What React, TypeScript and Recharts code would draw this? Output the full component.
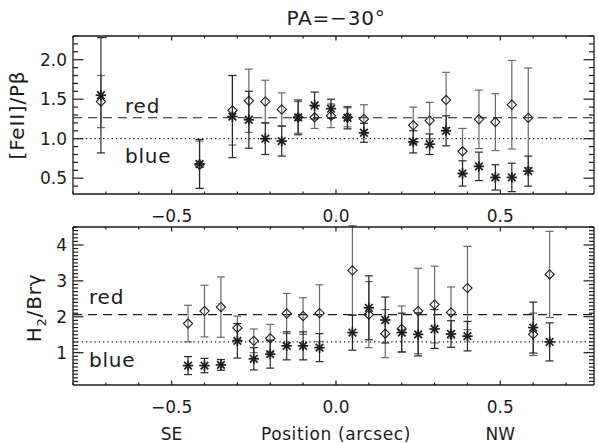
import React from "react";
import { ComposedChart, Scatter, ErrorBar, XAxis, YAxis, ReferenceLine } from "recharts";

// upper panel: [FeII]/Pbeta
const posTop = [-0.715, -0.415, -0.315, -0.265, -0.215, -0.165, -0.115, -0.065, -0.015, 0.035, 0.085, 0.235, 0.285, 0.335, 0.385, 0.435, 0.485, 0.535, 0.585];
const blueTop = [1.55, 0.68, 1.28, 1.24, 1.0, 0.97, 1.27, 1.42, 1.38, 1.265, 1.075, 0.96, 0.93, 1.1, 0.56, 0.65, 0.51, 0.51, 0.59];
const blueTopErr = [0.73, 0.31, 0.52, 0.36, 0.2, 0.19, 0.22, 0.17, 0.12, 0.14, 0.12, 0.14, 0.13, 0.19, 0.16, 0.18, 0.16, 0.18, 0.19];
const redTop = [1.47, 0.67, 1.36, 1.48, 1.47, 1.37, 1.27, 1.27, 1.29, 1.27, 1.25, 1.17, 1.23, 1.49, 0.84, 1.245, 1.21, 1.43, 1.265];
const redTopErr = [0.33, 0.3, 0.44, 0.4, 0.27, 0.21, 0.2, 0.14, 0.15, 0.12, 0.18, 0.23, 0.23, 0.35, 0.29, 0.37, 0.36, 0.56, 0.63];

// lower panel: H2/Brgamma
const posBot = [-0.45, -0.4, -0.35, -0.3, -0.25, -0.2, -0.15, -0.1, -0.05, 0.05, 0.1, 0.15, 0.2, 0.25, 0.3, 0.35, 0.4, 0.6, 0.65];
const blueBot = [0.64, 0.64, 0.66, 1.33, 0.83, 0.96, 1.19, 1.19, 1.14, 1.56, 2.25, 1.91, 1.56, 1.51, 1.66, 1.52, 1.46, 1.7, 1.3];
const blueBotErr = [0.25, 0.2, 0.15, 0.48, 0.31, 0.39, 0.39, 0.39, 0.39, 0.49, 0.89, 0.64, 0.54, 0.6, 0.54, 0.37, 0.41, 0.71, 0.53];
const redBot = [1.81, 2.16, 2.27, 1.69, 1.33, 1.4, 2.09, 2.02, 2.1, 3.29, 2.06, 1.53, 1.66, 2.16, 2.34, 2.12, 2.8, 1.51, 3.18];
const redBotErr = [0.51, 0.72, 0.84, 0.33, 0.33, 0.39, 0.56, 0.51, 0.79, 1.25, 0.92, 0.67, 0.64, 1.19, 1.07, 0.71, 1.16, 0.59, 1.2];

// mean levels
const levelsTop = { red: 1.265, blue: 1.0 };
const levelsBot = { red: 2.06, blue: 1.3 };

// axes
const xDomain: [number, number] = [-0.8, 0.785];
const xMajor = [-0.5, 0, 0.5];
const xLabels = ["\u22120.5", "0.0", "0.5"];
const xSubLabels = ["SE", "Position (arcsec)", "NW"];
const yTopDomain: [number, number] = [0.3, 2.3];
const yTopMajor = [0.5, 1.0, 1.5, 2.0];
const yTopLabels = ["0.5", "1.0", "1.5", "2.0"];
const yBotDomain: [number, number] = [0.1, 4.5];
const yBotMajor = [1, 2, 3, 4];
const yBotLabels = ["1", "2", "3", "4"];

const INK = "#1c1c1c";
const FONT = "'DejaVu Sans', sans-serif";
const CHART_W = 598;
const PLOT_LEFT = 73;
const PLOT_RIGHT_PAD = 4;

function steps(lo: number, hi: number, step: number) {
  const out: number[] = [];
  for (let i = Math.ceil(lo / step - 1e-9); i * step <= hi + 1e-9; i++) out.push(+(i * step).toFixed(4));
  return out;
}

const isMajor = (v: number, majors: number[]) => majors.some(m => Math.abs(m - v) < 1e-6);
const noLabel = () => <g />;

function xLabel(labels: string[], subs?: string[]) {
  return (p: any) => {
    const i = p.index;
    return (
      <g>
        <text x={p.x} y={p.y + 28} textAnchor="middle" fontSize={17} fontFamily={FONT} fill={INK}>{labels[i]}</text>
        {subs && (
          <text x={p.x} y={p.y + 55} textAnchor="middle" fontSize={17} fontFamily={FONT} fill={INK}
            letterSpacing={i === 1 ? 0.6 : 0}>{subs[i]}</text>
        )}
      </g>
    );
  };
}

function yLabel(labels: string[]) {
  return (p: any) => (
    <text x={p.x - 6} y={p.y} dy="0.36em" textAnchor="end" fontSize={17} fontFamily={FONT} fill={INK}>{labels[p.index]}</text>
  );
}

function Asterisk(p: any) {
  const { cx, cy } = p;
  if (cx == null || cy == null) return <g />;
  const r = 5.2, d = 3.8;
  return (
    <g stroke={INK} strokeWidth={1.7}>
      <line x1={cx} y1={cy - r} x2={cx} y2={cy + r} />
      <line x1={cx - r} y1={cy} x2={cx + r} y2={cy} />
      <line x1={cx - d} y1={cy - d} x2={cx + d} y2={cy + d} />
      <line x1={cx - d} y1={cy + d} x2={cx + d} y2={cy - d} />
    </g>
  );
}

function Diamond(p: any) {
  const { cx, cy } = p;
  if (cx == null || cy == null) return <g />;
  const r = 4.6;
  return (
    <polygon points={`${cx},${cy - r} ${cx + r},${cy} ${cx},${cy + r} ${cx - r},${cy}`}
      fill="none" stroke={INK} strokeWidth={1.1} />
  );
}

function levelLabel(text: string, dx: number, dy: number) {
  return (props: any) => {
    const vb = props.viewBox ?? { x: 0, y: 0 };
    return (
      <text x={vb.x + dx} y={vb.y + dy} fontSize={20} fontFamily={FONT} fill={INK} letterSpacing={0.8}>{text}</text>
    );
  };
}

const rows = (xs: number[], ys: number[], es: number[]) => xs.map((x, i) => ({ x, y: ys[i], err: es[i] }));

interface PanelProps {
  height: number;
  top: number;
  marginTop: number;
  bottomAxisH: number;
  yDomain: [number, number];
  yMajor: number[];
  yLabels: string[];
  blue: { x: number; y: number; err: number }[];
  red: { x: number; y: number; err: number }[];
  levels: { red: number; blue: number };
  redLabel: [number, number];
  blueLabel: [number, number];
  subs?: string[];
}

function Panel(pp: PanelProps) {
  const xMinor = steps(xDomain[0], xDomain[1], 0.1);
  const yMinor = steps(pp.yDomain[0] + 0.05, pp.yDomain[1], 0.1);
  const frame = { stroke: INK, strokeWidth: 1.3 };
  // IDL-style inward ticks on all four sides, lengths in pixels converted to data units
  const plotW = CHART_W - PLOT_LEFT - PLOT_RIGHT_PAD;
  const plotH = pp.height - pp.marginTop - pp.bottomAxisH;
  const perX = (xDomain[1] - xDomain[0]) / plotW;
  const perY = (pp.yDomain[1] - pp.yDomain[0]) / plotH;
  const [x0, x1] = xDomain;
  const [y0, y1] = pp.yDomain;
  const tickProps = { xAxisId: "b", yAxisId: "l", stroke: INK, strokeWidth: 1.2, ifOverflow: "visible" as const };
  const xTickLines = xMinor.flatMap(v => {
    const len = (isMajor(v, xMajor) ? 4.5 : 2.5) * perY;
    return [
      <ReferenceLine key={`xb${v}`} {...tickProps} segment={[{ x: v, y: y0 }, { x: v, y: y0 + len }]} />,
      <ReferenceLine key={`xt${v}`} {...tickProps} segment={[{ x: v, y: y1 }, { x: v, y: y1 - len }]} />,
    ];
  });
  const yTickLines = yMinor.flatMap(v => {
    const len = (isMajor(v, pp.yMajor) ? 10.5 : 5) * perX;
    return [
      <ReferenceLine key={`yl${v}`} {...tickProps} segment={[{ x: x0, y: v }, { x: x0 + len, y: v }]} />,
      <ReferenceLine key={`yr${v}`} {...tickProps} segment={[{ x: x1, y: v }, { x: x1 - len, y: v }]} />,
    ];
  });
  return (
    <div style={{ position: "absolute", left: 0, top: pp.top }}>
      <ComposedChart width={CHART_W} height={pp.height}
        margin={{ top: pp.marginTop, right: PLOT_RIGHT_PAD, bottom: 0, left: 0 }}>
        <XAxis xAxisId="t" orientation="top" mirror type="number" domain={xDomain} allowDataOverflow
          ticks={xMajor} tickLine={false} tick={noLabel} height={1} axisLine={frame} />
        <XAxis xAxisId="b" type="number" dataKey="x" domain={xDomain} allowDataOverflow
          ticks={xMajor} interval={0} tickSize={0} tickMargin={0} tickLine={false}
          height={pp.bottomAxisH} axisLine={frame} tick={xLabel(xLabels, pp.subs)} />
        <YAxis yAxisId="r" orientation="right" mirror type="number" domain={pp.yDomain} allowDataOverflow
          ticks={pp.yMajor} tickLine={false} tick={noLabel} width={1} axisLine={frame} />
        <YAxis yAxisId="l" type="number" dataKey="y" domain={pp.yDomain} allowDataOverflow
          ticks={pp.yMajor} interval={0} tickSize={0} tickMargin={0} tickLine={false}
          width={PLOT_LEFT} axisLine={frame} tick={yLabel(pp.yLabels)} />
        {xTickLines}
        {yTickLines}
        <ReferenceLine xAxisId="b" yAxisId="l" y={pp.levels.red} stroke={INK} strokeWidth={1.2}
          strokeDasharray="9 6" label={levelLabel("red", pp.redLabel[0], pp.redLabel[1])} />
        <ReferenceLine xAxisId="b" yAxisId="l" y={pp.levels.blue} stroke={INK} strokeWidth={1.2}
          strokeDasharray="1.3 3" label={levelLabel("blue", pp.blueLabel[0], pp.blueLabel[1])} />
        <Scatter xAxisId="b" yAxisId="l" data={pp.red} shape={Diamond} isAnimationActive={false}>
          <ErrorBar dataKey="err" direction="y" width={4} stroke="#6a6a6a" strokeWidth={1.2} />
        </Scatter>
        <Scatter xAxisId="b" yAxisId="l" data={pp.blue} shape={Asterisk} isAnimationActive={false}>
          <ErrorBar dataKey="err" direction="y" width={4} stroke="#262626" strokeWidth={1.2} />
        </Scatter>
      </ComposedChart>
    </div>
  );
}

export default function App() {
  const rot: React.CSSProperties = {
    position: "absolute", transform: "translate(-50%, -50%) rotate(-90deg)", whiteSpace: "nowrap",
    fontFamily: FONT, fontSize: 20, color: INK, letterSpacing: 0.8,
  };
  return (
    <div style={{ position: "absolute", left: 0, top: 0, width: 598, height: 443, background: "#fff", overflow: "hidden" }}>
      <div style={{ position: "absolute", left: 336, top: 18, transform: "translate(-50%, -50%)", fontFamily: FONT,
        fontSize: 20, color: INK, whiteSpace: "nowrap", letterSpacing: 0.8 }}>{"PA=\u221230\u00b0"}</div>
      <Panel height={230} top={0} marginTop={36} bottomAxisH={36}
        yDomain={yTopDomain} yMajor={yTopMajor} yLabels={yTopLabels}
        blue={rows(posTop, blueTop, blueTopErr)} red={rows(posTop, redTop, redTopErr)}
        levels={levelsTop} redLabel={[52, -5]} blueLabel={[52, 24]} />
      <Panel height={253} top={190} marginTop={37} bottomAxisH={58}
        yDomain={yBotDomain} yMajor={yBotMajor} yLabels={yBotLabels}
        blue={rows(posBot, blueBot, blueBotErr)} red={rows(posBot, redBot, redBotErr)}
        levels={levelsBot} redLabel={[16, -11]} blueLabel={[16, 25]} subs={xSubLabels} />
      <div style={{ ...rot, left: 17, top: 115 }}>[FeII]/Pβ</div>
      <div style={{ ...rot, left: 35, top: 308 }}>H<sub style={{ fontSize: 13 }}>2</sub>/Brγ</div>
    </div>
  );
}
